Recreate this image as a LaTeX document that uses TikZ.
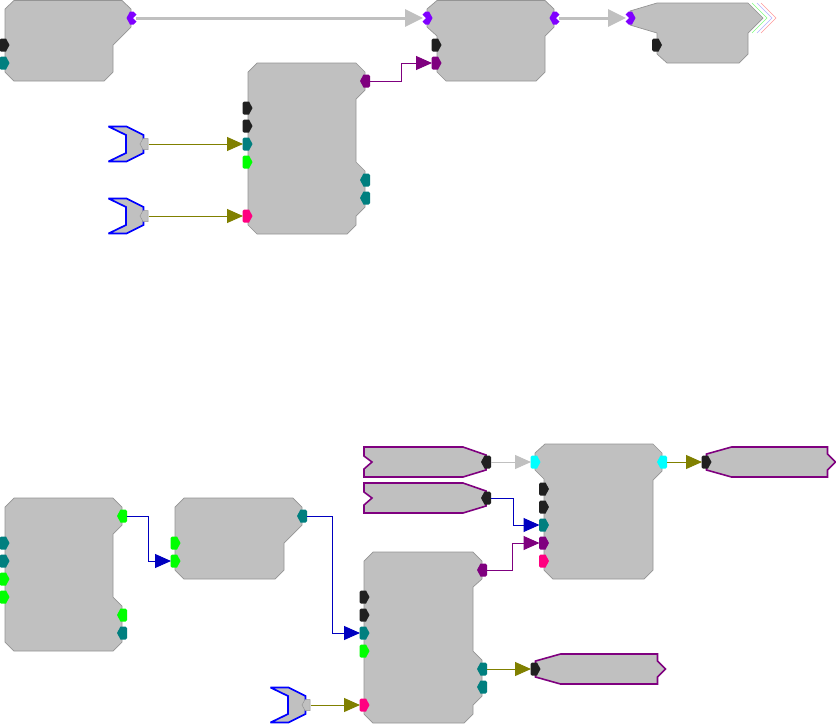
\documentclass[tikz,border=0pt]{standalone}
\usetikzlibrary{arrows.meta}
\definecolor{blockfill}{HTML}{C0C0C0}
\definecolor{blockedge}{HTML}{949494}
\definecolor{pblack}{HTML}{202020}
\definecolor{pteal}{HTML}{007F7F}
\definecolor{pgreen}{HTML}{00FF00}
\definecolor{ppink}{HTML}{FF0080}
\definecolor{ppurple}{HTML}{7F007F}
\definecolor{pviolet}{HTML}{8000FF}
\definecolor{pcyan}{HTML}{00FFFF}
\definecolor{polive}{HTML}{808000}
\definecolor{pblue}{HTML}{0000C0}
\definecolor{srcblue}{HTML}{0000FF}
\definecolor{pgrey}{HTML}{C0C0C0}
\tikzset{
  blockshape/.style={fill=blockfill,draw=blockedge,line width=0.7pt,line join=round},
  srcshape/.style={fill=blockfill,draw=srcblue,line width=1.7pt,line join=miter,miter limit=3},
  sinkshape/.style={fill=blockfill,draw=ppurple,line width=1.6pt,line join=miter},
  portbox/.style={inner sep=0pt,outer sep=0pt,minimum width=9pt,minimum height=13pt},
  oliveline/.style={line width=1pt,draw=polive,-{Triangle[length=16pt,width=14pt,fill=polive]}},
  blueline/.style={line width=1pt,draw=pblue,-{Triangle[length=16pt,width=14pt,fill=pblue]}},
  purpleline/.style={line width=1pt,draw=ppurple,-{Triangle[length=16pt,width=14pt,fill=ppurple]}},
  thinGrey/.style={line width=1pt,draw=pgrey,-{Triangle[length=16pt,width=14pt,fill=pgrey]}},
  thickGrey/.style={line width=3pt,draw=pgrey,-{Triangle[length=18pt,width=17pt,fill=pgrey]}},
}
% port pointing right: flat side on the left
\newcommand{\PortRight}[4]{%
  \node[portbox] (#1) at (#2,#3) {};
  \fill[#4,shift={(#2,#3)}] (-5,-5) -- (-3.5,-6.5) -- (1.5,-6.5) -- (5,0) -- (1.5,6.5) -- (-3.5,6.5) -- (-5,5) -- cycle;}
% port pointing left: flat side on the right
\newcommand{\PortLeft}[4]{%
  \node[portbox] (#1) at (#2,#3) {};
  \fill[#4,shift={(#2,#3)}] (5,-5) -- (3.5,-6.5) -- (-1.5,-6.5) -- (-5,0) -- (-1.5,6.5) -- (3.5,6.5) -- (5,5) -- cycle;}
% notched ports
\newcommand{\NotchRight}[3]{%
  \node[portbox] (#1) at (#2,#3) {};
  \fill[pviolet,shift={(#2,#3)}] (5,0) -- (1.5,-6.5) -- (-2,-6.5) -- (-5,-3.5) -- (-1.5,0) -- (-5,3.5) -- (-2,6.5) -- (1.5,6.5) -- cycle;}
\newcommand{\NotchLeft}[3]{%
  \node[portbox] (#1) at (#2,#3) {};
  \fill[pviolet,shift={(#2,#3)}] (-5,0) -- (-1.5,-6.5) -- (2,-6.5) -- (5,-3.5) -- (1.5,0) -- (5,3.5) -- (2,6.5) -- (-1.5,6.5) -- cycle;}
% source block with its port; #2,#3 = position of the port
\newcommand{\SourceBlock}[3]{%
  \draw[srcshape,shift={(#2,#3)}] (-36,-17.5) -- (-18,-17.5) -- (-1,-9) -- (-1,9) -- (-18,17.5) -- (-36,17.5) -- (-18.5,9) -- (-18.5,-9) -- cycle;
  \node[portbox,minimum width=8pt] (#1) at (#2,#3) {};
  \draw[fill=blockfill,draw=blockedge,line width=0.5pt,shift={(#2,#3)}] (3.5,-5.5) -- (-1.5,-5.5) -- (-4.5,0) -- (-1.5,5.5) -- (3.5,5.5) -- cycle;}
% purple input block ending on a black port; #2,#3 = position of the port
\newcommand{\FeedBlock}[3]{%
  \draw[sinkshape,shift={(#2,#3)}] (-122,-15) -- (-23,-15) -- (0,-7) -- (0,8) -- (-23,15) -- (-122,15) -- (-122,7) -- (-114,0) -- (-122,-6) -- cycle;
  \PortLeft{#1}{#2}{#3}{pblack}}
% purple output block starting with a black port; #2,#3 = position of the port; #4 = length
\newcommand{\SinkBlock}[4]{%
  \draw[sinkshape,shift={(#2,#3)}] (0,-8) -- (25,-15) -- (#4,-15) -- (#4,-8) -- ({#4+8},0) -- (#4,8) -- (#4,15) -- (25,15) -- (0,8) -- cycle;
  \PortRight{#1}{#2}{#3}{pblack}}
\begin{document}
\begin{tikzpicture}[x=1pt,y=-1pt]
\useasboundingbox (0,0) rectangle (836,724);
\fill[white] (0,0) rectangle (836,724);

% Trailing chevrons of the right block
\draw[green!50!white,line width=0.5pt] (752,3) -- (767,18) -- (752,33);
\draw[blue!30!white,line width=0.5pt] (757,3) -- (772,18) -- (757,33);
\draw[red!40!white,line width=0.5pt] (761,3) -- (776,18) -- (761,33);

% Blocks, upper group
\draw[blockshape] (5,9) -- (14,0.5) -- (122,0.5) -- (131,9) -- (131,27) -- (113,45) -- (113,72) -- (104,81) -- (14,81) -- (5,72) -- cycle;
\draw[blockshape] (427,9) -- (437,0.5) -- (545,0.5) -- (554,9) -- (554,27) -- (545,36) -- (545,72) -- (536,81) -- (446,81) -- (437,72) -- (437,36) -- (427,27) -- cycle;
\draw[blockshape] (630,11) -- (657,3) -- (748,3) -- (763,18) -- (748,33) -- (748,54) -- (739,63) -- (667,63) -- (657,54) -- (657,33) -- (630,25) -- cycle;
\draw[blockshape] (248,72) -- (257,63) -- (356,63) -- (365,72) -- (365,90) -- (356,99) -- (356,162) -- (365,171) -- (365,207) -- (356,216) -- (356,225) -- (347,234) -- (257,234) -- (248,225) -- cycle;

% Blocks, lower group
\draw[blockshape] (5,507) -- (14,498) -- (113,498) -- (122,507) -- (122,525) -- (113,534) -- (113,597) -- (122,606) -- (122,642) -- (113,651) -- (14,651) -- (5,642) -- cycle;
\draw[blockshape] (175,507) -- (184,498) -- (293,498) -- (302,507) -- (302,525) -- (284,543) -- (284,570) -- (275,579) -- (184,579) -- (175,570) -- cycle;
\draw[blockshape] (364,561) -- (373,552) -- (473,552) -- (482,561) -- (482,579) -- (473,587) -- (473,651) -- (482,660) -- (482,696) -- (473,705) -- (473,714) -- (464,723) -- (373,723) -- (364,714) -- cycle;
\draw[blockshape] (535,453) -- (545,444) -- (653,444) -- (662,453) -- (662,471) -- (653,480) -- (653,570) -- (644,579) -- (553,579) -- (544,570) -- (544,479) -- (535,470) -- cycle;

% Ports, upper group
\NotchLeft{aout}{131.5}{18}
\PortRight{ain1}{4.5}{45}{pblack}
\PortRight{ain2}{4.5}{63}{pteal}
\NotchRight{bin}{427.5}{18}
\NotchLeft{bout}{554.5}{18}
\PortRight{bin1}{436.5}{45}{pblack}
\PortRight{bin2}{436.5}{63}{ppurple}
\NotchRight{cin}{630.5}{18}
\PortRight{cin1}{657}{45}{pblack}
\PortRight{din1}{247.5}{108}{pblack}
\PortRight{din2}{247.5}{126}{pblack}
\PortRight{din3}{247.5}{144}{pteal}
\PortRight{din4}{247.5}{162}{pgreen}
\PortRight{din5}{247.5}{216}{ppink}
\PortLeft{dout1}{365}{81}{ppurple}
\PortLeft{dout2}{365}{180}{pteal}
\PortLeft{dout3}{365}{198}{pteal}
\SourceBlock{sa}{144.5}{144}
\SourceBlock{sb}{144.5}{216}

% Ports, lower group
\PortRight{gin1}{4.5}{543}{pteal}
\PortRight{gin2}{4.5}{561}{pteal}
\PortRight{gin3}{4.5}{579}{pgreen}
\PortRight{gin4}{4.5}{597}{pgreen}
\PortLeft{gout1}{122}{516}{pgreen}
\PortLeft{gout2}{122}{615}{pgreen}
\PortLeft{gout3}{122}{633}{pteal}
\PortRight{hin1}{175.5}{543}{pgreen}
\PortRight{hin2}{175.5}{561}{pgreen}
\PortLeft{hout}{302}{516}{pteal}
\PortRight{ein1}{364.5}{597}{pblack}
\PortRight{ein2}{364.5}{615}{pblack}
\PortRight{ein3}{364.5}{633}{pteal}
\PortRight{ein4}{364.5}{651}{pgreen}
\PortRight{ein5}{364.5}{705}{ppink}
\PortLeft{eout1}{482}{570}{ppurple}
\PortLeft{eout2}{482}{669}{pteal}
\PortLeft{eout3}{482}{687}{pteal}
\PortRight{fin0}{535.5}{462}{pcyan}
\PortLeft{fout}{662}{462}{pcyan}
\PortRight{fin1}{544}{489}{pblack}
\PortRight{fin2}{544}{507}{pblack}
\PortRight{fin3}{544}{525}{pteal}
\PortRight{fin4}{544}{543}{ppurple}
\PortRight{fin5}{544}{561}{ppink}
\SourceBlock{sc}{306.5}{705}
\FeedBlock{fa}{486}{462}
\FeedBlock{fb}{486}{498}
\SinkBlock{ka}{706.5}{462}{121}
\SinkBlock{kb}{535.5}{669}{122}

% Connectors, upper group
\draw[thickGrey] (aout.east) -- (bin.west);
\draw[thickGrey] (bout.east) -- (cin.west);
\draw[purpleline] (dout1.east) -- ++(31.5,0) |- (bin2.west);
\draw[oliveline] (sa.east) -- (din3.west);
\draw[oliveline] (sb.east) -- (din5.west);

% Connectors, lower group
\draw[blueline] (gout1.east) -- ++(22,0) |- (hin2.west);
\draw[blueline] (hout.east) -- ++(26,0) |- (ein3.west);
\draw[purpleline] (eout1.east) -- ++(26,0) |- (fin4.west);
\draw[blueline] (fb.east) -- ++(23,0) |- (fin3.west);
\draw[thinGrey] (fa.east) -- (fin0.west);
\draw[oliveline] (fout.east) -- (ka.west);
\draw[oliveline] (eout2.east) -- (kb.west);
\draw[oliveline] (sc.east) -- (ein5.west);
\end{tikzpicture}
\end{document}
